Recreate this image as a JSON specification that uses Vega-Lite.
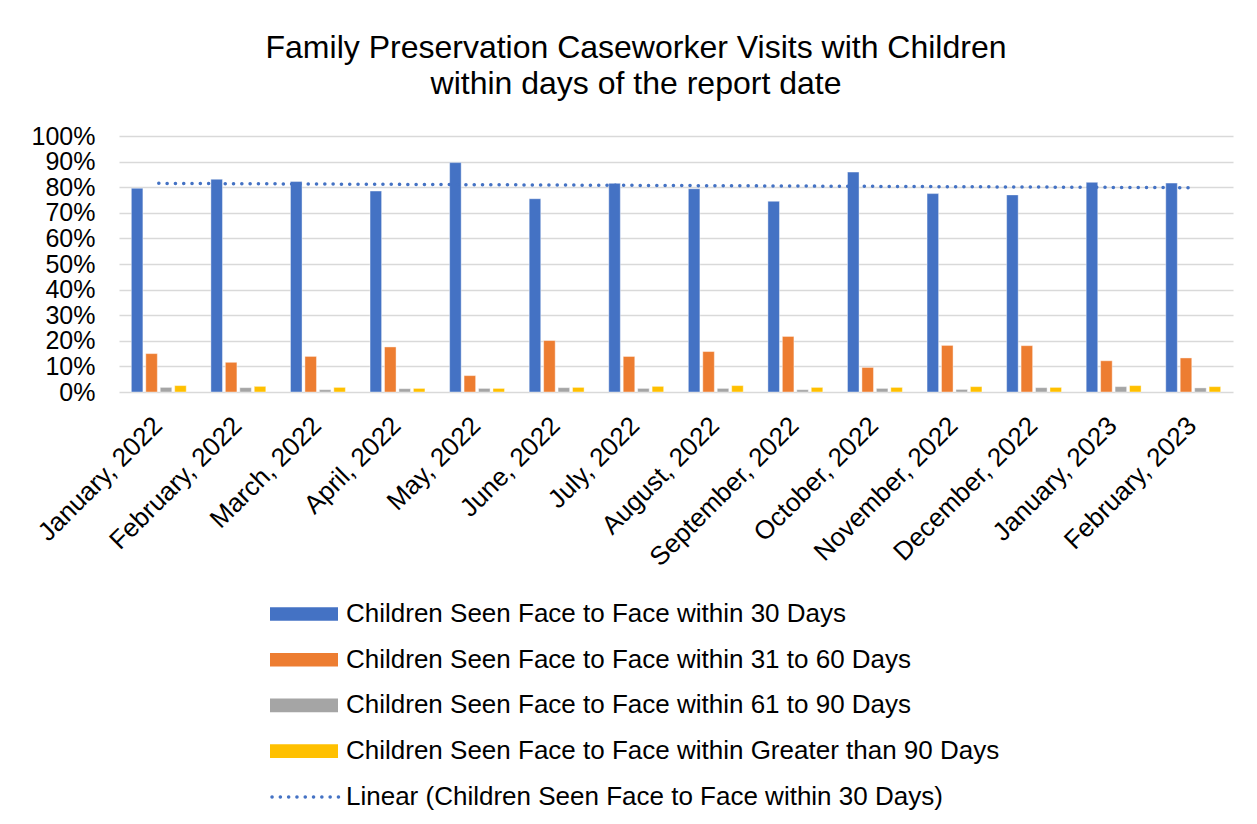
{
  "$schema": "https://vega.github.io/schema/vega-lite/v6.json",
  "width": 1114,
  "height": 256,
  "autosize": {"type": "none"},
  "padding": {"left": 119, "top": 136, "right": 24, "bottom": 432},
  "background": "white",
  "config": {
    "font": "Liberation Sans",
    "view": {"stroke": null},
    "axis": {"labelFont": "Liberation Sans", "labelColor": "#000000", "labelFontSize": 26},
    "legend": {"labelFont": "Liberation Sans", "labelColor": "#000000", "labelFontSize": 26}
  },
  "title": {
    "text": ["Family Preservation Caseworker Visits with Children", "within days of the report date"],
    "fontSize": 32,
    "fontWeight": "normal",
    "color": "#000000",
    "font": "Liberation Sans",
    "lineHeight": 36,
    "anchor": "middle",
    "dx": -40,
    "offset": 23
  },
  "datasets": {
    "bars": [
      {"month": "January, 2022", "series": "Children Seen Face to Face within 30 Days", "value": 0.796},
      {"month": "January, 2022", "series": "Children Seen Face to Face within 31 to 60 Days", "value": 0.150},
      {"month": "January, 2022", "series": "Children Seen Face to Face within 61 to 90 Days", "value": 0.018},
      {"month": "January, 2022", "series": "Children Seen Face to Face within Greater than 90 Days", "value": 0.025},
      {"month": "February, 2022", "series": "Children Seen Face to Face within 30 Days", "value": 0.831},
      {"month": "February, 2022", "series": "Children Seen Face to Face within 31 to 60 Days", "value": 0.116},
      {"month": "February, 2022", "series": "Children Seen Face to Face within 61 to 90 Days", "value": 0.017},
      {"month": "February, 2022", "series": "Children Seen Face to Face within Greater than 90 Days", "value": 0.022},
      {"month": "March, 2022", "series": "Children Seen Face to Face within 30 Days", "value": 0.822},
      {"month": "March, 2022", "series": "Children Seen Face to Face within 31 to 60 Days", "value": 0.139},
      {"month": "March, 2022", "series": "Children Seen Face to Face within 61 to 90 Days", "value": 0.009},
      {"month": "March, 2022", "series": "Children Seen Face to Face within Greater than 90 Days", "value": 0.018},
      {"month": "April, 2022", "series": "Children Seen Face to Face within 30 Days", "value": 0.785},
      {"month": "April, 2022", "series": "Children Seen Face to Face within 31 to 60 Days", "value": 0.176},
      {"month": "April, 2022", "series": "Children Seen Face to Face within 61 to 90 Days", "value": 0.013},
      {"month": "April, 2022", "series": "Children Seen Face to Face within Greater than 90 Days", "value": 0.014},
      {"month": "May, 2022", "series": "Children Seen Face to Face within 30 Days", "value": 0.896},
      {"month": "May, 2022", "series": "Children Seen Face to Face within 31 to 60 Days", "value": 0.064},
      {"month": "May, 2022", "series": "Children Seen Face to Face within 61 to 90 Days", "value": 0.014},
      {"month": "May, 2022", "series": "Children Seen Face to Face within Greater than 90 Days", "value": 0.014},
      {"month": "June, 2022", "series": "Children Seen Face to Face within 30 Days", "value": 0.755},
      {"month": "June, 2022", "series": "Children Seen Face to Face within 31 to 60 Days", "value": 0.201},
      {"month": "June, 2022", "series": "Children Seen Face to Face within 61 to 90 Days", "value": 0.017},
      {"month": "June, 2022", "series": "Children Seen Face to Face within Greater than 90 Days", "value": 0.018},
      {"month": "July, 2022", "series": "Children Seen Face to Face within 30 Days", "value": 0.815},
      {"month": "July, 2022", "series": "Children Seen Face to Face within 31 to 60 Days", "value": 0.139},
      {"month": "July, 2022", "series": "Children Seen Face to Face within 61 to 90 Days", "value": 0.014},
      {"month": "July, 2022", "series": "Children Seen Face to Face within Greater than 90 Days", "value": 0.022},
      {"month": "August, 2022", "series": "Children Seen Face to Face within 30 Days", "value": 0.794},
      {"month": "August, 2022", "series": "Children Seen Face to Face within 31 to 60 Days", "value": 0.158},
      {"month": "August, 2022", "series": "Children Seen Face to Face within 61 to 90 Days", "value": 0.014},
      {"month": "August, 2022", "series": "Children Seen Face to Face within Greater than 90 Days", "value": 0.025},
      {"month": "September, 2022", "series": "Children Seen Face to Face within 30 Days", "value": 0.745},
      {"month": "September, 2022", "series": "Children Seen Face to Face within 31 to 60 Days", "value": 0.217},
      {"month": "September, 2022", "series": "Children Seen Face to Face within 61 to 90 Days", "value": 0.009},
      {"month": "September, 2022", "series": "Children Seen Face to Face within Greater than 90 Days", "value": 0.018},
      {"month": "October, 2022", "series": "Children Seen Face to Face within 30 Days", "value": 0.859},
      {"month": "October, 2022", "series": "Children Seen Face to Face within 31 to 60 Days", "value": 0.096},
      {"month": "October, 2022", "series": "Children Seen Face to Face within 61 to 90 Days", "value": 0.014},
      {"month": "October, 2022", "series": "Children Seen Face to Face within Greater than 90 Days", "value": 0.018},
      {"month": "November, 2022", "series": "Children Seen Face to Face within 30 Days", "value": 0.775},
      {"month": "November, 2022", "series": "Children Seen Face to Face within 31 to 60 Days", "value": 0.182},
      {"month": "November, 2022", "series": "Children Seen Face to Face within 61 to 90 Days", "value": 0.010},
      {"month": "November, 2022", "series": "Children Seen Face to Face within Greater than 90 Days", "value": 0.021},
      {"month": "December, 2022", "series": "Children Seen Face to Face within 30 Days", "value": 0.770},
      {"month": "December, 2022", "series": "Children Seen Face to Face within 31 to 60 Days", "value": 0.181},
      {"month": "December, 2022", "series": "Children Seen Face to Face within 61 to 90 Days", "value": 0.017},
      {"month": "December, 2022", "series": "Children Seen Face to Face within Greater than 90 Days", "value": 0.018},
      {"month": "January, 2023", "series": "Children Seen Face to Face within 30 Days", "value": 0.819},
      {"month": "January, 2023", "series": "Children Seen Face to Face within 31 to 60 Days", "value": 0.122},
      {"month": "January, 2023", "series": "Children Seen Face to Face within 61 to 90 Days", "value": 0.021},
      {"month": "January, 2023", "series": "Children Seen Face to Face within Greater than 90 Days", "value": 0.025},
      {"month": "February, 2023", "series": "Children Seen Face to Face within 30 Days", "value": 0.816},
      {"month": "February, 2023", "series": "Children Seen Face to Face within 31 to 60 Days", "value": 0.133},
      {"month": "February, 2023", "series": "Children Seen Face to Face within 61 to 90 Days", "value": 0.016},
      {"month": "February, 2023", "series": "Children Seen Face to Face within Greater than 90 Days", "value": 0.021}
    ],
    "trend": [
      {"month": "January, 2022", "label": "Linear (Children Seen Face to Face within 30 Days)", "value": 0.815},
      {"month": "February, 2023", "label": "Linear (Children Seen Face to Face within 30 Days)", "value": 0.798}
    ]
  },
  "encoding": {
    "x": {
      "field": "month",
      "type": "nominal",
      "sort": ["January, 2022", "February, 2022", "March, 2022", "April, 2022", "May, 2022", "June, 2022", "July, 2022", "August, 2022", "September, 2022", "October, 2022", "November, 2022", "December, 2022", "January, 2023", "February, 2023"],
      "scale": {"paddingInner": 0.31, "paddingOuter": 0.155},
      "axis": {"title": null, "labelAngle": -45, "ticks": false, "domain": false, "labelPadding": 20, "labelOffset": -10, "labelLimit": 400, "grid": false}
    },
    "y": {
      "field": "value",
      "type": "quantitative",
      "scale": {"domain": [0, 1], "nice": false},
      "axis": {"title": null, "format": ".0%", "values": [0, 0.1, 0.2, 0.3, 0.4, 0.5, 0.6, 0.7, 0.8, 0.9, 1], "ticks": false, "domain": false, "labelPadding": 24, "labelFontSize": 25, "labelOverlap": false, "gridColor": "#d9d9d9", "gridWidth": 1.5}
    }
  },
  "layer": [
    {
      "data": {"name": "bars"},
      "mark": {"type": "bar", "stroke": "white", "strokeWidth": 0.7, "strokeOpacity": 0.6},
      "encoding": {
        "xOffset": {
          "field": "series",
          "type": "nominal",
          "sort": ["Children Seen Face to Face within 30 Days", "Children Seen Face to Face within 31 to 60 Days", "Children Seen Face to Face within 61 to 90 Days", "Children Seen Face to Face within Greater than 90 Days"],
          "scale": {"paddingInner": 0.2, "paddingOuter": 0}
        },
        "color": {
          "field": "series",
          "type": "nominal",
          "sort": ["Children Seen Face to Face within 30 Days", "Children Seen Face to Face within 31 to 60 Days", "Children Seen Face to Face within 61 to 90 Days", "Children Seen Face to Face within Greater than 90 Days"],
          "scale": {"range": ["#4472C4", "#ED7D31", "#A5A5A5", "#FFC000"]},
          "legend": {
            "title": null,
            "orient": "none",
            "legendX": 151,
            "legendY": 465,
            "direction": "vertical",
            "symbolType": "M-1,-0.523H4.231V0.523H-1Z",
            "symbolSize": 676,
            "symbolStrokeWidth": 0,
            "labelOffset": 50,
            "rowPadding": 19.7,
            "labelLimit": 900
          }
        }
      }
    },
    {
      "data": {"name": "trend"},
      "mark": {"type": "line", "color": "#4472C4", "strokeWidth": 3.5, "strokeCap": "round"},
      "encoding": {
        "strokeDash": {
          "field": "label",
          "type": "nominal",
          "scale": {"range": [[0.1, 8.2]]},
          "legend": {
            "title": null,
            "orient": "none",
            "legendX": 151,
            "legendY": 646,
            "symbolType": "M-1,0H4.231",
            "symbolSize": 676,
            "symbolStrokeColor": "#4472C4",
            "symbolStrokeWidth": 3.5,
            "labelOffset": 46,
            "labelLimit": 900,
            "encode": {"symbols": {"update": {"strokeCap": {"value": "round"}}}}
          }
        }
      }
    }
  ]
}
